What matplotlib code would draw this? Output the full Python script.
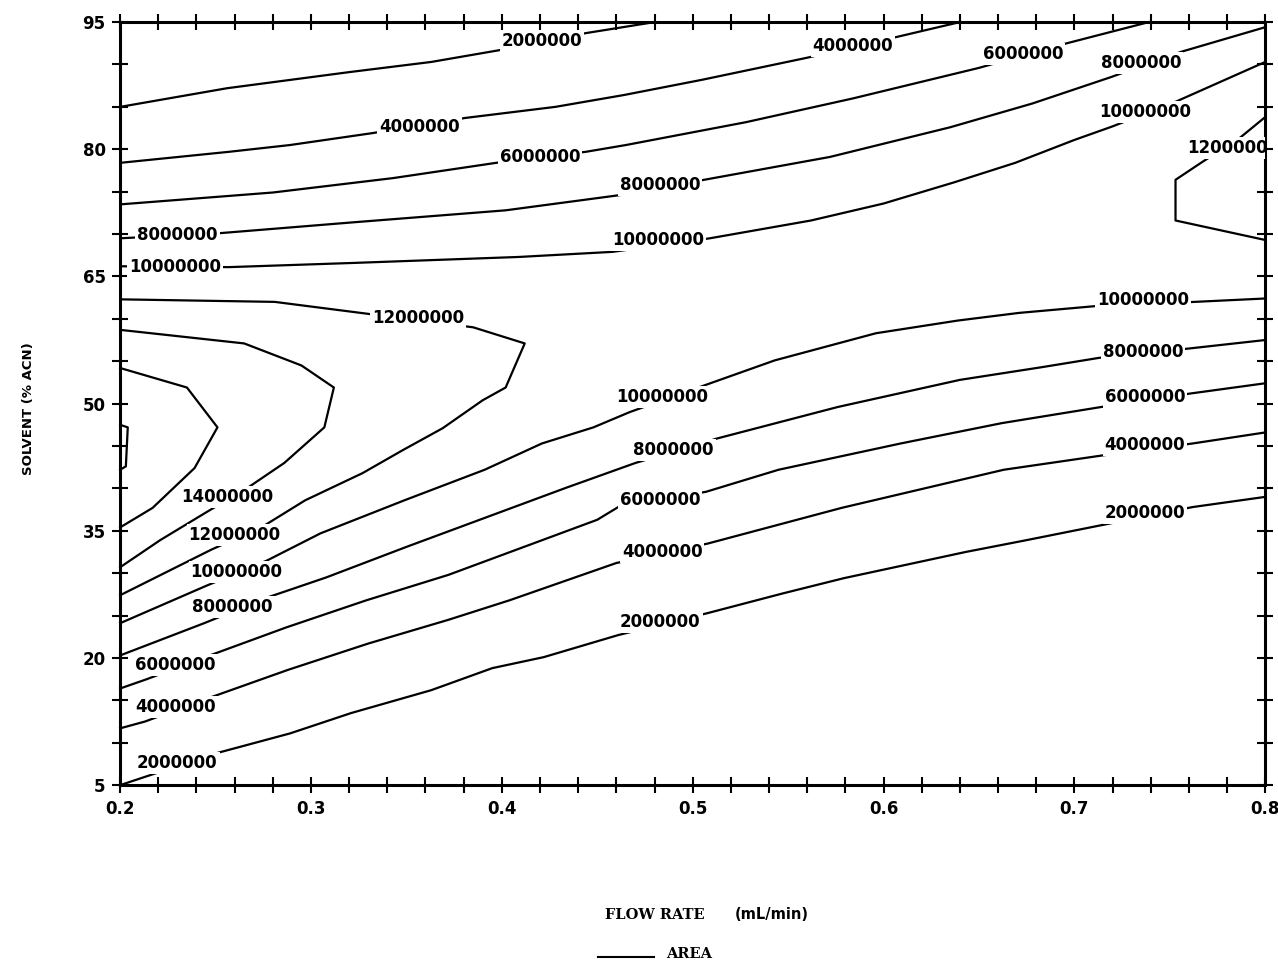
import matplotlib
matplotlib.use("Agg")
import matplotlib.pyplot as plt
from matplotlib.ticker import MultipleLocator, FixedLocator
from matplotlib import font_manager

# contour lines of peak AREA
# x = flow rate (mL/min), y = solvent (% ACN)

# upper family: area drops towards high % ACN
x_2m_top = [0.200, 0.256, 0.320, 0.363, 0.399, 0.444, 0.480]
y_2m_top = [85.0, 87.2, 89.1, 90.3, 91.7, 93.7, 95.0]
x_4m_top = [0.200, 0.257, 0.289, 0.332, 0.381, 0.428, 0.464, 0.505, 0.560, 0.606, 0.640]
y_4m_top = [78.4, 79.7, 80.5, 81.9, 83.7, 85.0, 86.4, 88.2, 90.8, 93.2, 95.0]
x_6m_top = [0.200, 0.280, 0.343, 0.397, 0.444, 0.465, 0.528, 0.584, 0.650, 0.696, 0.739]
y_6m_top = [73.5, 74.9, 76.6, 78.4, 79.7, 80.5, 83.2, 86.0, 89.6, 92.5, 95.0]
x_8m_top = [0.200, 0.252, 0.323, 0.402, 0.462, 0.506, 0.572, 0.635, 0.678, 0.719, 0.756, 0.800]
y_8m_top = [69.5, 70.1, 71.4, 72.8, 74.6, 76.4, 79.1, 82.6, 85.4, 88.5, 91.5, 94.4]
x_10m_top = [0.200, 0.257, 0.323, 0.409, 0.458, 0.509, 0.562, 0.600, 0.637, 0.669, 0.700, 0.720, 0.753, 0.800]
y_10m_top = [66.2, 66.1, 66.6, 67.3, 67.9, 69.5, 71.6, 73.6, 76.1, 78.4, 81.1, 82.7, 85.6, 90.3]

# maximum at low flow rate
x_12m_loop = [0.200, 0.281, 0.385, 0.412, 0.402, 0.390, 0.369, 0.348, 0.327, 0.297, 0.274, 0.248, 0.200]
y_12m_loop = [62.3, 62.0, 59.0, 57.1, 51.9, 50.4, 47.1, 44.5, 41.8, 38.6, 35.4, 32.8, 27.4]
x_14m_loop = [0.200, 0.265, 0.295, 0.312, 0.307, 0.296, 0.286, 0.267, 0.246, 0.221, 0.200]
y_14m_loop = [58.7, 57.1, 54.5, 51.9, 47.2, 45.0, 43.0, 40.1, 37.3, 33.9, 30.7]
x_16m_loop = [0.200, 0.235, 0.251, 0.239, 0.217, 0.200]
y_16m_loop = [54.2, 51.9, 47.2, 42.4, 37.7, 35.4]
x_18m_loop = [0.200, 0.204, 0.203, 0.200]
y_18m_loop = [47.5, 47.2, 42.6, 42.2]
x_12m_right = [0.800, 0.787, 0.767, 0.753, 0.753, 0.800]
y_12m_right = [83.8, 81.4, 78.5, 76.4, 71.6, 69.3]

# lower family: area rises with % ACN
x_10m_low = [0.200, 0.245, 0.277, 0.305, 0.349, 0.391, 0.421, 0.448, 0.467, 0.503, 0.543, 0.596, 0.639, 0.671, 0.711, 0.763, 0.800]
y_10m_low = [24.1, 28.5, 31.5, 34.7, 38.6, 42.2, 45.3, 47.2, 49.0, 51.9, 55.1, 58.3, 59.8, 60.7, 61.5, 62.0, 62.4]
x_8m_low = [0.200, 0.244, 0.278, 0.308, 0.350, 0.392, 0.434, 0.470, 0.513, 0.576, 0.640, 0.683, 0.713, 0.760, 0.800]
y_8m_low = [20.3, 24.1, 27.2, 29.5, 33.1, 36.6, 40.1, 43.0, 45.9, 49.6, 52.8, 54.3, 55.4, 56.5, 57.5]
x_6m_low = [0.200, 0.214, 0.247, 0.287, 0.329, 0.372, 0.414, 0.450, 0.461, 0.507, 0.545, 0.609, 0.662, 0.714, 0.761, 0.800]
y_6m_low = [16.4, 17.5, 20.3, 23.6, 26.8, 29.8, 33.3, 36.3, 37.8, 39.6, 42.2, 45.3, 47.7, 49.6, 51.2, 52.4]
x_4m_low = [0.200, 0.213, 0.248, 0.288, 0.330, 0.372, 0.404, 0.460, 0.508, 0.578, 0.663, 0.715, 0.762, 0.800]
y_4m_low = [11.7, 12.5, 15.4, 18.6, 21.7, 24.5, 26.8, 31.2, 33.5, 37.7, 42.2, 43.9, 45.3, 46.6]
x_2m_low = [0.200, 0.212, 0.251, 0.289, 0.321, 0.363, 0.395, 0.422, 0.461, 0.508, 0.547, 0.579, 0.643, 0.675, 0.715, 0.762, 0.800]
y_2m_low = [5.0, 5.9, 8.8, 11.1, 13.5, 16.2, 18.8, 20.1, 22.7, 25.3, 27.6, 29.4, 32.5, 33.9, 35.7, 37.8, 39.0]

x_ticks = [0.2, 0.3, 0.4, 0.5, 0.6, 0.7, 0.8]
x_ticklabels = ["0.2", "0.3", "0.4", "0.5", "0.6", "0.7", "0.8"]
y_ticks = [5, 20, 35, 50, 65, 80, 95]

# (level, x, y, where the level is written)
lines = [
    (2000000, x_2m_top, y_2m_top, [(0.421, 92.8)]),
    (4000000, x_4m_top, y_4m_top, [(0.357, 82.6), (0.584, 92.2)]),
    (6000000, x_6m_top, y_6m_top, [(0.420, 79.1), (0.673, 91.2)]),
    (8000000, x_8m_top, y_8m_top, [(0.230, 69.9), (0.483, 75.8), (0.735, 90.2)]),
    (10000000, x_10m_top, y_10m_top, [(0.229, 66.1), (0.482, 69.3), (0.737, 84.4)]),
    (12000000, x_12m_loop, y_12m_loop, [(0.356, 60.1), (0.260, 34.5)]),
    (14000000, x_14m_loop, y_14m_loop, [(0.256, 39.0)]),
    (16000000, x_16m_loop, y_16m_loop, []),
    (18000000, x_18m_loop, y_18m_loop, []),
    (12000000, x_12m_right, y_12m_right, [(0.783, 80.1)]),
    (10000000, x_10m_low, y_10m_low, [(0.261, 30.1), (0.484, 50.8), (0.736, 62.2)]),
    (8000000, x_8m_low, y_8m_low, [(0.259, 26.0), (0.490, 44.5), (0.736, 56.1)]),
    (6000000, x_6m_low, y_6m_low, [(0.229, 19.2), (0.483, 38.6), (0.737, 50.8)]),
    (4000000, x_4m_low, y_4m_low, [(0.229, 14.2), (0.484, 32.5), (0.737, 45.1)]),
    (2000000, x_2m_low, y_2m_low, [(0.230, 7.6), (0.483, 24.2), (0.737, 37.1)]),
]

installed = {f.name for f in font_manager.fontManager.ttflist}
if "Liberation Sans Narrow" in installed:
    num_font, num_size = "Liberation Sans Narrow", 16
else:
    num_font, num_size = "DejaVu Sans", 12

fig = plt.figure(figsize=(12.78, 9.61), dpi=100)
ax = fig.add_axes([0.094, 0.183, 0.896, 0.794])

for level, xs, ys, labels in lines:
    ax.plot(xs, ys, color="black", lw=1.6, zorder=2, clip_on=False)
    for lx, ly in labels:
        ax.text(lx, ly, str(level), ha="center", va="center", family=num_font,
                fontsize=num_size, fontweight="bold", zorder=3, clip_on=True,
                bbox=dict(boxstyle="square,pad=0.12", fc="white", ec="none"))

ax.set_xlim(0.2, 0.8)
ax.set_ylim(5, 95)
ax.set_xticks(x_ticks)
ax.set_xticklabels(x_ticklabels)
ax.xaxis.set_minor_locator(MultipleLocator(0.02))
ax.yaxis.set_major_locator(FixedLocator(y_ticks))
ax.yaxis.set_minor_locator(MultipleLocator(5))
ax.set_yticklabels([str(v) for v in y_ticks])

for which in ("major", "minor"):
    ax.tick_params(which=which, direction="inout", length=11, width=1.5,
                   top=True, right=True, labeltop=False, labelright=False)
ax.tick_params(which="major", pad=5)
for lab in ax.get_xticklabels() + ax.get_yticklabels():
    lab.set_family(num_font)
    lab.set_fontsize(num_size)
    lab.set_fontweight("bold")

for sp in ax.spines.values():
    sp.set_linewidth(2.2)

fig.text(0.022, 0.575, "SOLVENT (% ACN)", rotation=90, ha="center", va="center",
         fontsize=9.5, fontweight="bold")
fig.text(0.551, 0.048, "FLOW RATE", ha="right", va="center", family="DejaVu Serif",
         fontsize=10.5, fontweight="bold")
fig.text(0.575, 0.048, "(mL/min)", ha="left", va="center", fontsize=10.5, fontweight="bold")
fig.add_artist(plt.Line2D([0.468, 0.512], [0.004, 0.004], color="black", lw=1.5))
fig.text(0.521, 0.007, "AREA", ha="left", va="center", family="DejaVu Serif",
         fontsize=10.5, fontweight="bold")

fig.savefig("out.png", dpi=100, facecolor="white")
